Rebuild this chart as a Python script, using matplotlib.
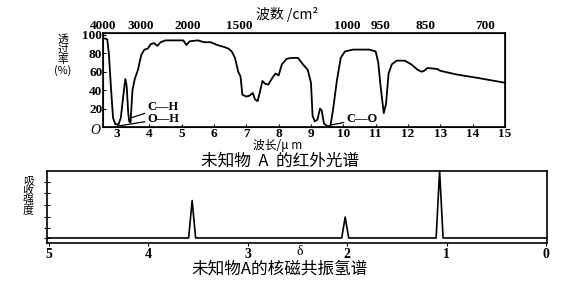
import numpy as np
import matplotlib
matplotlib.use("Agg")
import matplotlib.pyplot as plt

plt.rcParams['font.family'] = ['Liberation Serif', 'Noto Sans CJK SC', 'DejaVu Sans']
CJK = ['Noto Sans CJK SC', 'DejaVu Sans']

# IR spectrum: wavelength (um) and transmittance (%)
ir_wl = [2.57, 2.65, 2.70, 2.75, 2.82, 2.88, 2.95, 3.05, 3.12, 3.20, 3.26, 3.30,
         3.35, 3.38, 3.42, 3.48, 3.55, 3.65, 3.75, 3.85, 3.95, 4.05, 4.15, 4.25,
         4.35, 4.50, 4.80, 5.05, 5.15, 5.25, 5.50, 5.70, 5.90, 6.10, 6.30, 6.45,
         6.55, 6.65, 6.75, 6.82, 6.88, 7.00, 7.10, 7.20, 7.27, 7.35, 7.42, 7.50,
         7.58, 7.68, 7.80, 7.90, 8.00, 8.10, 8.25, 8.40, 8.60, 8.75, 8.90, 9.00,
         9.05, 9.12, 9.20, 9.28, 9.33, 9.40, 9.50, 9.60, 9.68, 9.80, 9.92, 10.05,
         10.30, 10.80, 11.00, 11.08, 11.15, 11.25, 11.32, 11.40, 11.50, 11.65,
         11.90, 12.10, 12.30, 12.42, 12.50, 12.60, 12.90, 13.00, 13.50, 14.20, 15.00]
ir_t = [96, 96, 95, 80, 40, 10, 3, 3, 10, 35, 52, 45,
        15, 6, 5, 40, 52, 62, 78, 84, 85, 90, 91, 88,
        92, 94, 94, 94, 89, 93, 94, 92, 92, 89, 87, 85,
        82, 75, 60, 55, 35, 33, 34, 37, 30, 28, 38, 50,
        47, 46, 53, 58, 56, 68, 74, 75, 75, 68, 62, 48,
        12, 6, 8, 20, 18, 4, 1, 1, 18, 50, 75, 82,
        84, 84, 82, 70, 45, 15, 25, 58, 68, 72,
        72, 68, 62, 60, 61, 64, 63, 61, 57, 53, 48]

ir_yticks = [20, 40, 60, 80, 100]
ir_xticks = [3, 4, 5, 6, 7, 8, 9, 10, 11, 12, 13, 14, 15]
# wavenumber labels on the top axis and where they sit (in um)
wn_labels = ['4000', '3000', '2000', '1500', '1000', '950', '850', '700']
wn_pos = [2.55, 3.71, 5.18, 6.78, 10.1, 11.15, 12.54, 14.38]

# bond labels: text, point on the curve, text anchor
bonds = ['C—H', 'O—H', 'C—O']
bond_xy = [(3.43, 9.8), (3.03, 1.0), (9.62, 2.2)]
bond_text_xy = [(3.95, 21.5), (3.95, 9.0), (10.1, 8.7)]

# 1H NMR: chemical shift (ppm) and relative peak height
nmr_shift = [3.56, 2.02, 1.07]
nmr_height = [0.59, 0.36, 1.0]
nmr_base = 0.07
nmr_xticks = [5, 4, 3, 2, 1, 0]
nmr_yticks = [0.07, 0.21, 0.36, 0.53, 0.69, 0.85]

fig = plt.figure(figsize=(5.63, 2.87), dpi=100)

# ---------------- IR spectrum ----------------
ax = fig.add_axes([0.183, 0.5575, 0.714, 0.3275])
ax.plot(ir_wl, ir_t, color='black', lw=1.3)
ax.set_xlim(2.57, 15)
ax.set_ylim(0, 102)
ax.set_xticks(ir_xticks)
ax.set_yticks(ir_yticks)
ax.tick_params(direction='in', length=2, width=0.8, labelsize=9.5, pad=0.5)
for lab in ax.get_xticklabels() + ax.get_yticklabels():
    lab.set_fontweight('bold')
for s in ax.spines.values():
    s.set_linewidth(1.2)

for name, xy, txy in zip(bonds, bond_xy, bond_text_xy):
    ax.annotate(name, xy=xy, xytext=txy, ha='left', va='center',
                fontsize=9, fontweight='bold',
                arrowprops=dict(arrowstyle='-', lw=0.9, color='black',
                                shrinkA=0, shrinkB=0))

top = ax.twiny()
top.set_xlim(ax.get_xlim())
top.set_xticks(wn_pos)
top.set_xticklabels(wn_labels, fontsize=9.5, fontweight='bold')
top.tick_params(length=0, pad=1)

fig.text(0.51, 0.948, '波数 /cm²', ha='center', va='center', fontsize=10,
         family=CJK)
fig.text(0.494, 0.492, '波长/μ m', ha='center', va='center', fontsize=8.5,
         family=CJK)
fig.text(0.497, 0.440, '未知物  A  的红外光谱', ha='center', va='center',
         fontsize=12, family=CJK)
fig.text(0.112, 0.807, '透\n过\n率\n(%)', ha='center', va='center',
         fontsize=7.8, linespacing=1.0, family=CJK)
fig.text(0.169, 0.547, 'O', ha='center', va='center', fontsize=10,
         style='italic')

# ---------------- 1H NMR ----------------
bx = fig.add_axes([0.0835, 0.1533, 0.888, 0.251])
half = 0.035
xs = [5.02]
ys = [nmr_base]
for d, h in sorted(zip(nmr_shift, nmr_height), reverse=True):
    xs += [d + half, d, d - half]
    ys += [nmr_base, h, nmr_base]
xs.append(-0.01)
ys.append(nmr_base)
bx.plot(xs, ys, color='black', lw=1.2)
bx.set_xlim(5.02, -0.01)
bx.set_ylim(0, 1)
bx.set_xticks(nmr_xticks)
bx.set_yticks(nmr_yticks)
bx.set_yticklabels([])
bx.tick_params(axis='x', direction='out', length=2.5, width=0.8,
               labelsize=10, pad=1)
bx.tick_params(axis='y', direction='inout', length=5, width=0.8)
for lab in bx.get_xticklabels():
    lab.set_fontweight('bold')
for s in bx.spines.values():
    s.set_linewidth(1.2)

fig.text(0.533, 0.125, 'δ', ha='center', va='center', fontsize=10)
fig.text(0.05, 0.317, '吸\n收\n强\n度', ha='center', va='center',
         fontsize=7.8, linespacing=1.0, family=CJK)
fig.text(0.497, 0.062, '未知物A的核磁共振氢谱', ha='center', va='center',
         fontsize=12, family=CJK)

fig.savefig('out.png', dpi=100)
